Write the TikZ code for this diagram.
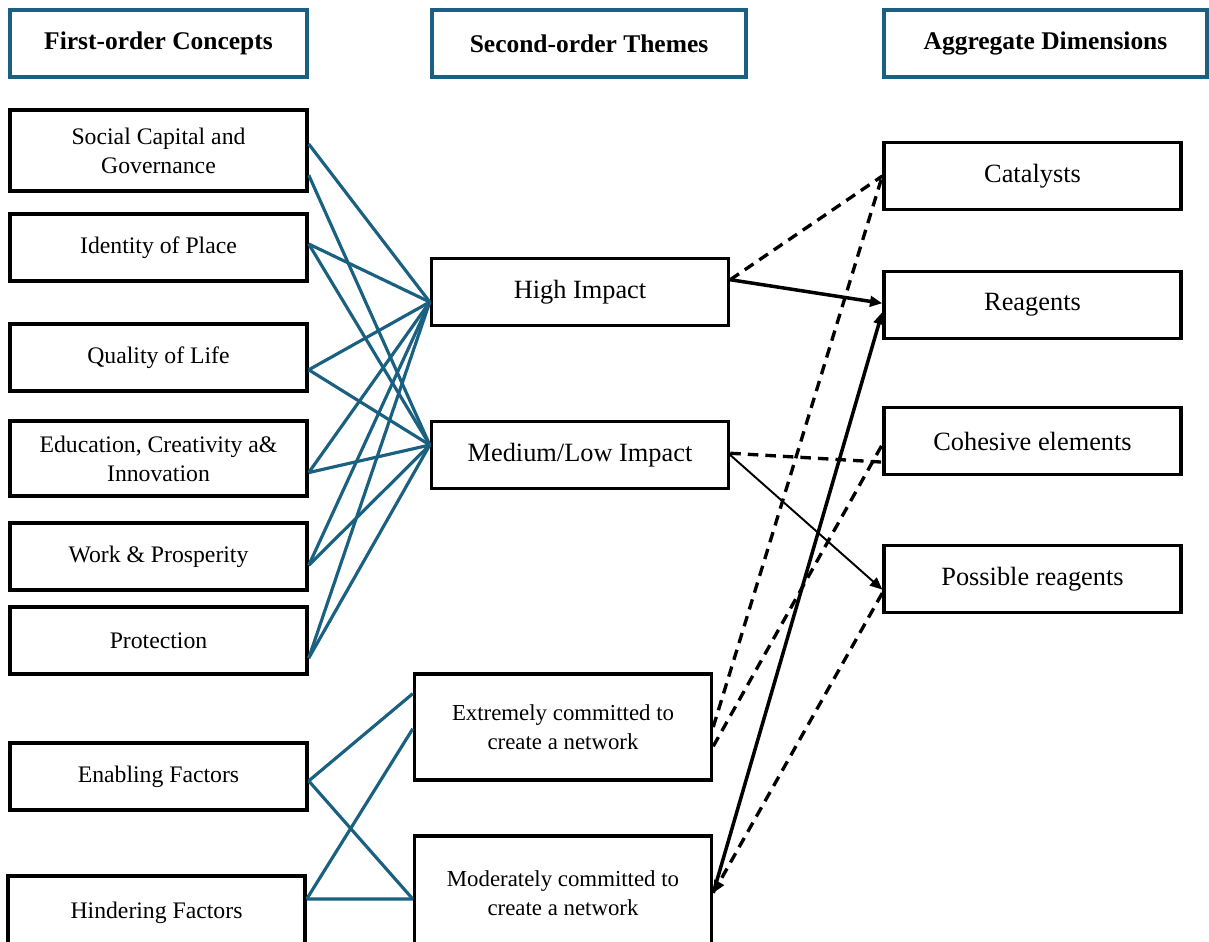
\documentclass[tikz,border=0pt]{standalone}
\usepackage{fontspec}
\setmainfont{Liberation Serif}
\usetikzlibrary{arrows.meta}
\definecolor{linkblue}{RGB}{26,96,128}

\begin{document}
\begin{tikzpicture}[
    x=0.02cm, y=-0.02cm,
    every node/.style={align=center},
    head/.style={rectangle, draw=linkblue, line width=2pt, minimum height=1.34cm, font=\fontsize{14.5}{17}\selectfont\bfseries},
    box/.style={rectangle, draw, line width=2pt, minimum width=5.94cm, minimum height=1.34cm},
    leftbox/.style={box, font=\fontsize{13.5}{16.5}\selectfont},
    midbox/.style={box, font=\fontsize{15}{18}\selectfont},
    netbox/.style={box, minimum height=2.12cm, font=\fontsize{13}{16.5}\selectfont},
    link/.style={draw=linkblue, line width=1.8pt},
    arrow/.style={-{Triangle[length=7pt,width=6pt]}, line width=2pt},
    thinarrow/.style={-{Triangle[length=7pt,width=6pt]}, line width=1.1pt},
    dashline/.style={dash pattern=on 6pt off 4pt, line width=1.9pt}
]
\useasboundingbox (0,0) rectangle (1209,941);

% Headers
\node[head, minimum width=5.94cm] (first) at (158.5,43.5) {First-order Concepts};
\node[head, minimum width=6.28cm] (second) at (589,43.5) {Second-order Themes};
\node[head, minimum width=6.46cm] (aggregate) at (1045.5,43.5) {Aggregate Dimensions};

% First-order concepts
\node[leftbox, minimum height=1.62cm] (social) at (158.5,150.5) {Social Capital and\\Governance};
\node[leftbox] (identity) at (158.5,247.5) {Identity of Place};
\node[leftbox] (quality) at (158.5,357.5) {Quality of Life};
\node[leftbox, minimum height=1.5cm] (education) at (158.5,458.5) {Education, Creativity a\&\\Innovation};
\node[leftbox] (work) at (158.5,556.5) {Work \& Prosperity};
\node[leftbox] (protection) at (158.5,640.5) {Protection};
\node[leftbox] (enabling) at (158.5,776.5) {Enabling Factors};
\node[leftbox, minimum height=1.48cm] (hindering) at (156.5,913) {Hindering Factors};

% Second-order themes
\node[midbox] (high) at (580,292) {High Impact};
\node[midbox] (medium) at (580,455) {Medium/Low Impact};
\node[netbox] (extremely) at (563,727) {Extremely committed to\\create a network};
\node[netbox, minimum height=2.28cm] (moderately) at (563,893) {Moderately committed to\\create a network};

% Aggregate dimensions
\node[midbox] (catalysts) at (1032.5,176) {Catalysts};
\node[midbox] (reagents) at (1032.5,305) {Reagents};
\node[midbox] (cohesive) at (1032.5,441) {Cohesive elements};
\node[midbox] (possible) at (1032.5,579) {Possible reagents};

% Links to themes
\draw[link] ([yshift=3.7pt]social.east) -- ([yshift=-5.7pt]high.west);
\draw[link] ([yshift=-14pt]social.east) -- ([yshift=5.7pt]medium.west);
\foreach \src/\sh in {identity/2pt, quality/-7pt, education/-8pt, work/-5pt, protection/-10pt} {
    \draw[link] ([yshift=\sh]\src.east) -- ([yshift=-5.7pt]high.west);
    \draw[link] ([yshift=\sh]\src.east) -- ([yshift=5.7pt]medium.west);
}
\draw[link] ([yshift=-2.5pt]enabling.east) -- ([yshift=19pt]extremely.west);
\draw[link] ([yshift=-2.5pt]enabling.east) -- ([yshift=-3.4pt]moderately.west);
\draw[link] ([yshift=8pt]hindering.east) -- ([yshift=-1pt]extremely.west);
\draw[link] ([yshift=8pt]hindering.east) -- ([yshift=-3.4pt]moderately.west);

% Arrows to dimensions
\draw[dashline] ([yshift=7pt]high.east) -- (catalysts.west);
\draw[arrow] ([yshift=7pt]high.east) -- ([yshift=1pt]reagents.west);
\draw[dashline] ([yshift=1pt]medium.east) -- ([yshift=-12pt]cohesive.west);
\draw[thinarrow] (medium.east) -- ([yshift=-6pt]possible.west);
\draw[dashline] (extremely.east) -- (catalysts.west);
\draw[dashline] ([yshift=-11pt]extremely.east) -- ([yshift=-2pt]cohesive.west);
\draw[arrow] (moderately.east) -- ([yshift=-4pt]reagents.west);
\draw[dashline, -{Triangle[length=7pt,width=6pt]}] ([yshift=-8pt]possible.west) -- (moderately.east);

\end{tikzpicture}
\end{document}
